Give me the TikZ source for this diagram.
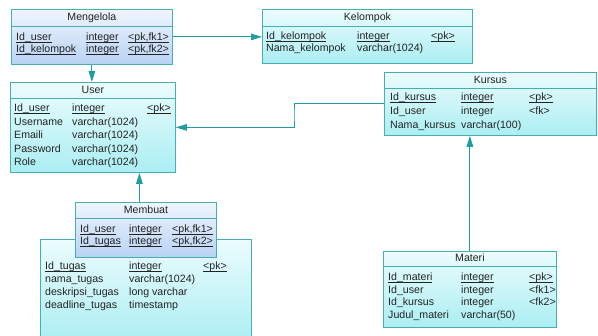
\documentclass[tikz,border=0pt]{standalone}
\usepackage{fontspec}
\setmainfont{Liberation Sans}
\usetikzlibrary{arrows.meta}

\definecolor{frame}{RGB}{70,175,178}
\definecolor{edge}{RGB}{30,158,160}
\definecolor{ink}{RGB}{35,35,35}
\definecolor{cyantop}{RGB}{236,252,253}
\definecolor{cyanbot}{RGB}{170,238,243}
\definecolor{bluetop}{RGB}{240,245,253}
\definecolor{bluebot}{RGB}{184,210,244}

% underlined key column, rule at a fixed depth
\newcommand\keyul[1]{\setbox0\hbox{#1}\rlap{\rule[-1.7pt]{\wd0}{0.6pt}}\box0}

% one row of a table: prefix, y, then x/text for each of the three columns
\newcommand\tblrow[8]{%
  \node[cell] (#1-a) at (#3,#2) {#4};
  \node[cell] (#1-b) at (#5,#2) {#6};
  \node[cell] (#1-c) at (#7,#2) {#8};}

% title of a table and the line under it: table name, title height, text
\newcommand\tbltitle[3]{%
  \node[cell,anchor=center] (#1-t) at ([yshift=-#2/2]#1.north) {#3};
  \draw[frame,line width=0.8pt] ([yshift=-#2]#1.north west) -- ([yshift=-#2]#1.north east);}

\begin{document}
\begin{tikzpicture}[x=1pt,y=-1pt,
  tbl/.style={draw=frame, line width=0.8pt, inner sep=0pt, anchor=north west},
  cyantbl/.style={tbl, top color=cyantop, bottom color=cyanbot},
  bluetbl/.style={tbl, top color=bluetop, bottom color=bluebot},
  cell/.style={anchor=west, inner sep=0pt, text height=8pt, text depth=1pt,
    font=\fontsize{10.6}{12}\selectfont, text=ink},
  link/.style={draw=edge, line width=1pt, -{Triangle[length=11pt,width=6.5pt]}}]
\useasboundingbox (0,0) rectangle (598,336);
\fill[white] (0,0) rectangle (598,336);
\clip (0,0) rectangle (598,336);

% ---- Tugas (title hidden under Membuat, runs off the bottom) ----
\node[cyantbl, minimum width=211pt, minimum height=104pt] (tugas) at (40,239) {};
\tblrow{tg1}{266}{45}{\keyul{Id\_tugas}}{129}{\keyul{integer}}{203}{\keyul{<pk>}}
\tblrow{tg2}{279}{45}{nama\_tugas}{129}{varchar(1024)}{203}{}
\tblrow{tg3}{292}{45}{deskripsi\_tugas}{129}{long varchar}{203}{}
\tblrow{tg4}{305}{45}{deadline\_tugas}{129}{timestamp}{203}{}

% ---- Membuat ----
\node[bluetbl, minimum width=141pt, minimum height=55pt] (membuat) at (75,202) {};
\tbltitle{membuat}{16pt}{Membuat}
\tblrow{mb1}{229}{80}{\keyul{Id\_user}}{129}{\keyul{integer}}{172}{\keyul{<pk,fk1>}}
\tblrow{mb2}{241.5}{80}{\keyul{Id\_tugas}}{129}{\keyul{integer}}{172}{\keyul{<pk,fk2>}}

% ---- Mengelola ----
\node[bluetbl, minimum width=161pt, minimum height=55pt] (mengelola) at (11,9) {};
\tbltitle{mengelola}{17pt}{Mengelola}
\tblrow{mg1}{37}{16}{\keyul{Id\_user}}{86}{\keyul{integer}}{128}{\keyul{<pk,fk1>}}
\tblrow{mg2}{49}{16}{\keyul{Id\_kelompok}}{86}{\keyul{integer}}{128}{\keyul{<pk,fk2>}}

% ---- Kelompok ----
\node[cyantbl, minimum width=210pt, minimum height=54pt] (kelompok) at (262,9) {};
\tbltitle{kelompok}{17pt}{Kelompok}
\tblrow{kp1}{36}{266}{\keyul{Id\_kelompok}}{357}{\keyul{integer}}{431}{\keyul{<pk>}}
\tblrow{kp2}{48.5}{266}{Nama\_kelompok}{357}{varchar(1024)}{431}{}

% ---- User ----
\node[cyantbl, minimum width=165pt, minimum height=90pt] (user) at (10,82) {};
\tbltitle{user}{16pt}{User}
\tblrow{us1}{108.5}{14}{\keyul{Id\_user}}{72}{\keyul{integer}}{147}{\keyul{<pk>}}
\tblrow{us2}{122}{14}{Username}{72}{varchar(1024)}{147}{}
\tblrow{us3}{135.5}{14}{Emaili}{72}{varchar(1024)}{147}{}
\tblrow{us4}{149}{14}{Password}{72}{varchar(1024)}{147}{}
\tblrow{us5}{162.5}{14}{Role}{72}{varchar(1024)}{147}{}

% ---- Kursus ----
\node[cyantbl, minimum width=212pt, minimum height=63pt] (kursus) at (384,72) {};
\tbltitle{kursus}{16pt}{Kursus}
\tblrow{ks1}{97.5}{390}{\keyul{Id\_kursus}}{461}{\keyul{integer}}{529}{\keyul{<pk>}}
\tblrow{ks2}{111.5}{390}{Id\_user}{461}{integer}{529}{<fk>}
\tblrow{ks3}{125}{390}{Nama\_kursus}{461}{varchar(100)}{529}{}

% ---- Materi ----
\node[cyantbl, minimum width=173pt, minimum height=76pt] (materi) at (383,251) {};
\tbltitle{materi}{15pt}{Materi}
\tblrow{mt1}{277}{388}{\keyul{Id\_materi}}{461}{\keyul{integer}}{529}{\keyul{<pk>}}
\tblrow{mt2}{290}{388}{Id\_user}{461}{integer}{529}{<fk1>}
\tblrow{mt3}{302.5}{388}{Id\_kursus}{461}{integer}{529}{<fk2>}
\tblrow{mt4}{315}{388}{Judul\_materi}{461}{varchar(50)}{529}{}

% ---- references ----
\draw[link] (mengelola.east) -- (mengelola.east -| kelompok.west);
\draw[link] (mengelola.south) -- (mengelola.south |- user.north);
\coordinate (elbow) at (294,115);
\draw[link] (kursus.west) -| (elbow) |- (user.east);
\draw[link] (materi.north) -- (materi.north |- kursus.south);
\coordinate (mbtop) at ([xshift=-6.5pt]membuat.north);
\draw[link] (mbtop) -- (mbtop |- user.south);
\end{tikzpicture}
\end{document}
